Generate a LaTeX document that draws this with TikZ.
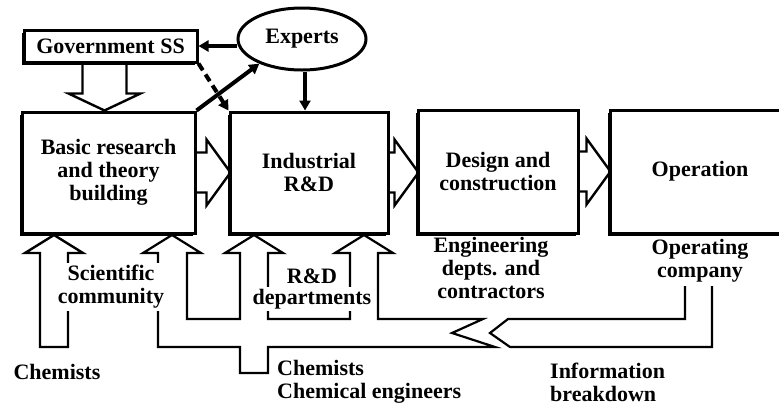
\documentclass[tikz,border=0pt]{standalone}
\usepackage{fontspec}
\setmainfont{Liberation Serif}
\usetikzlibrary{arrows.meta,calc,shapes.geometric,shadows}

\newcommand{\lblfont}{\fontsize{22}{23}\selectfont\bfseries}
\newcommand{\hollowright}[2]{%
	\draw[hollow] let \p1=(#1.east), \p2=(#2.west) in
		(\x1,\y1+20pt) -- (\x2-22pt,\y1+20pt) -- (\x2-22pt,\y1+33pt) -- (\x2+2pt,\y1)
		-- (\x2-22pt,\y1-33pt) -- (\x2-22pt,\y1-20pt) -- (\x1,\y1-20pt);}

\tikzset{
	box/.style={draw, line width=3pt, fill=white, align=center, inner sep=0pt,
		drop shadow={shadow xshift=-2.5pt, shadow yshift=-2.5pt, opacity=1, fill=black}},
	hollow/.style={line width=2.4pt, line join=miter},
	flow/.style={line width=2.2pt, line join=miter},
	link/.style={line width=4pt, -{Triangle[length=10pt,width=11pt]}},
	lbl/.style={align=center, inner sep=2pt},
}

\begin{document}
\begin{tikzpicture}[x=1pt, y=-1pt, every node/.style={font=\lblfont}]
	\path[use as bounding box, fill=white] (0,0) rectangle (779,405);

	\node[box, minimum width=173, minimum height=32] (gov) at (110.5,46) {Government SS};
	\node[draw, ellipse, line width=3pt, fill=white, minimum width=128, minimum height=62, inner sep=0pt] (experts) at (302,39) {Experts};
	\node[box, minimum width=173, minimum height=121] (basic) at (108.5,172.5) {Basic research\\and theory\\building};
	\node[box, minimum width=158, minimum height=121] (ind) at (309,172.5) {Industrial\\R\&D};
	\node[box, minimum width=160, minimum height=123] (des) at (498,171.5) {Design and\\construction};
	\node[box, minimum width=180, minimum height=123] (op) at (700,171.5) {Operation};

	\draw[link] (experts.west |- gov.east) -- (gov.east);
	\draw[link] ([xshift=3pt]experts.south) -- ([xshift=3pt]experts.south |- ind.north);
	\draw[link] (basic.north east) -- (experts.210);
	\draw[link, dash pattern=on 8pt off 5pt] (gov.south east) -- (ind.north west);

	\draw[hollow] let \p1=(gov.south), \p2=(basic.north) in
		(\x1-28pt,\y1) -- (\x1-28pt,\y2+17pt) -- (\x1-42pt,\y2+17pt) -- (\x1-6pt,\y2)
		-- (\x1+30pt,\y2+17pt) -- (\x1+16pt,\y2+17pt) -- (\x1+16pt,\y1);
	\hollowright{basic}{ind}
	\hollowright{ind}{des}
	\hollowright{des}{op}

	\draw[hollow] (40,347) -- (40,253) -- (25,253) -- (54,235) -- (83,253) -- (68,253) -- (68,347) -- cycle;
	\draw[flow] (158,347) -- (158,253) -- (143,253) -- (172,235) -- (201,253) -- (187,253) -- (187,319)
		-- (240,319) -- (240,253) -- (225,253) -- (254,235) -- (283,253) -- (268,253) -- (268,319)
		-- (350,319) -- (350,253) -- (335,253) -- (364,235) -- (393,253) -- (378,253) -- (378,319)
		-- (483,319) -- (452,333) -- (495,347) -- (268,347) -- (268,373) -- (240,373) -- (240,347) -- cycle;
	\draw[flow] ([xshift=-15pt]op.south) |- (508,319) -- (490,333) -- (510,347) -| ([xshift=12pt]op.south);

	\node[lbl, fill=white] (sci) at (111,287) {Scientific\\community};
	\node[lbl] (rd) at (312,276) {R\&D};
	\node[lbl, fill=white] (rddep) at (312,299) {departments};
	\node[lbl, fill=white, inner sep=3pt] (opco) at (700,261) {Operating\\company};
	\node[lbl] (eng) at (491,268) {Engineering\\depts. and\\contractors};
	\node[lbl] (chem) at (57,372) {Chemists};
	\node[lbl, anchor=west, align=left] (cheng) at (275,382) {Chemists\\Chemical engineers};
	\node[lbl, anchor=west, align=left] (info) at (548,382) {Information\\breakdown};
\end{tikzpicture}
\end{document}
